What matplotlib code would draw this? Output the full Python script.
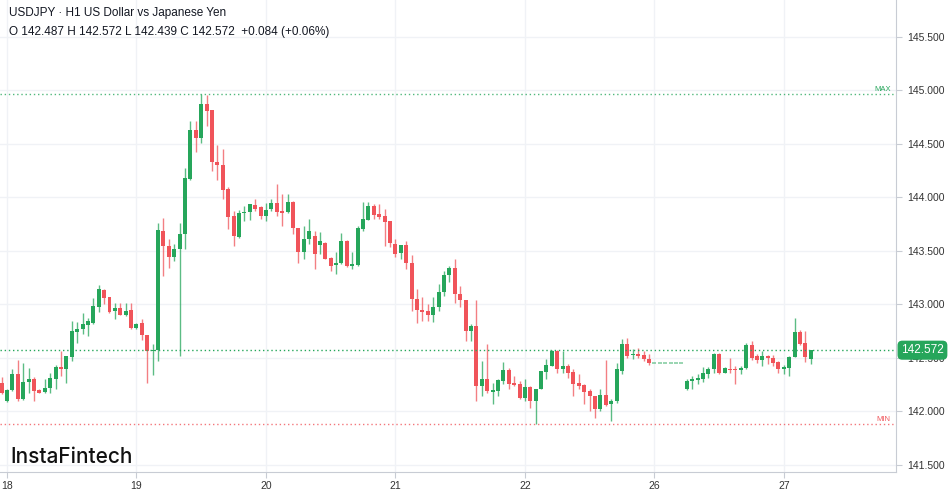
import matplotlib
matplotlib.use("Agg")
import matplotlib.pyplot as plt
import matplotlib.transforms as mtransforms
import numpy as np

# USDJPY H1 candles
opens = [142.268, 142.100, 142.199, 142.352, 142.119, 142.274, 142.300, 142.200, 142.180, 142.215,
         142.300, 142.414, 142.400, 142.510, 142.740, 142.766, 142.810, 142.828, 142.980, 143.133,
         143.065, 142.940, 142.962, 142.900, 142.946, 142.778, 142.828, 142.713, 142.560, 142.573,
         143.684, 143.544, 143.441, 143.513, 143.660, 144.173, 144.627, 144.550, 144.876, 144.814,
         144.334, 144.306, 144.073, 143.824, 143.631, 143.849, 143.861, 143.924, 143.908, 143.824,
         143.887, 143.943, 143.871, 143.862, 143.958, 143.715, 143.488, 143.606, 143.638, 143.550,
         143.575, 143.435, 143.364, 143.382, 143.591, 143.358, 143.364, 143.700, 143.787, 143.918,
         143.840, 143.824, 143.778, 143.560, 143.476, 143.550, 143.382, 143.046, 142.946, 142.937,
         142.897, 142.978, 143.115, 143.270, 143.336, 143.099, 143.040, 142.750, 142.797, 142.237,
         142.305, 142.181, 142.190, 142.284, 142.383, 142.262, 142.252, 142.128, 142.231, 142.097,
         142.212, 142.368, 142.424, 142.564, 142.399, 142.424, 142.370, 142.262, 142.243, 142.190,
         142.144, 142.019, 142.150, 142.066, 142.097, 142.377, 142.626, 142.529, 142.538, 142.523,
         142.491, 142.450, 142.450, 142.450, 142.450, 142.450, 142.450, 142.211, 142.283, 142.289,
         142.299, 142.345, 142.392, 142.532, 142.361, 142.398, 142.392, 142.386, 142.401, 142.625,
         142.516, 142.485, 142.516, 142.501, 142.460, 142.392, 142.407, 142.510, 142.740, 142.641,
         142.487]
highs = [142.324, 142.210, 142.400, 142.480, 142.455, 142.405, 142.324, 142.210, 142.306, 142.355,
         142.430, 142.560, 142.520, 142.840, 142.837, 142.920, 142.875, 143.060, 143.177, 143.140,
         143.070, 143.015, 143.010, 143.010, 143.010, 142.830, 142.865, 142.713, 142.626, 143.762,
         143.810, 143.612, 143.560, 143.756, 144.275, 144.710, 144.710, 144.965, 144.960, 144.820,
         144.484, 144.453, 144.098, 143.870, 143.880, 143.917, 143.942, 143.986, 143.920, 143.948,
         143.980, 144.120, 144.027, 144.027, 143.964, 143.715, 143.731, 143.793, 143.684, 143.675,
         143.580, 143.440, 143.488, 143.669, 143.597, 143.488, 143.731, 143.955, 143.958, 143.933,
         143.940, 143.887, 143.780, 143.606, 143.550, 143.591, 143.457, 143.146, 143.071, 143.000,
         143.071, 143.186, 143.311, 143.363, 143.420, 143.171, 143.045, 142.812, 143.040, 142.470,
         142.626, 142.268, 142.300, 142.460, 142.408, 142.330, 142.284, 142.300, 142.237, 142.212,
         142.380, 142.492, 142.573, 142.573, 142.564, 142.440, 142.393, 142.346, 142.252, 142.206,
         142.144, 142.206, 142.480, 142.112, 142.455, 142.673, 142.688, 142.585, 142.594, 142.563,
         142.538, 142.450, 142.450, 142.450, 142.450, 142.450, 142.450, 142.299, 142.330, 142.345,
         142.417, 142.417, 142.547, 142.547, 142.417, 142.501, 142.423, 142.423, 142.635, 142.656,
         142.532, 142.563, 142.523, 142.523, 142.470, 142.429, 142.516, 142.874, 142.759, 142.750,
         142.572]
lows = [142.159, 142.090, 142.190, 142.097, 142.110, 142.170, 142.100, 142.170, 142.170, 142.175,
        142.210, 142.330, 142.270, 142.470, 142.640, 142.720, 142.700, 142.820, 142.930, 142.999,
        142.920, 142.860, 142.900, 142.890, 142.770, 142.770, 142.670, 142.270, 142.336, 142.470,
        143.264, 143.342, 143.404, 142.517, 143.513, 144.166, 144.420, 144.509, 144.670, 144.244,
        144.166, 143.980, 143.706, 143.544, 143.622, 143.777, 143.787, 143.870, 143.793, 143.777,
        143.871, 143.824, 143.731, 143.855, 143.653, 143.389, 143.426, 143.560, 143.333, 143.466,
        143.420, 143.311, 143.280, 143.380, 143.350, 143.326, 143.360, 143.684, 143.787, 143.800,
        143.793, 143.544, 143.538, 143.445, 143.420, 143.332, 142.937, 142.828, 142.844, 142.844,
        142.834, 142.937, 143.077, 143.208, 143.015, 142.978, 142.657, 142.657, 142.097, 142.144,
        142.175, 142.066, 142.144, 142.252, 142.206, 142.237, 142.112, 142.097, 142.035, 141.885,
        142.210, 142.300, 142.424, 142.361, 142.361, 142.315, 142.144, 142.206, 142.066, 142.004,
        141.941, 142.004, 142.050, 141.910, 142.080, 142.346, 142.500, 142.491, 142.501, 142.470,
        142.438, 142.450, 142.450, 142.450, 142.450, 142.450, 142.450, 142.199, 142.211, 142.252,
        142.274, 142.314, 142.361, 142.345, 142.355, 142.361, 142.252, 142.345, 142.392, 142.479,
        142.448, 142.423, 142.439, 142.423, 142.361, 142.351, 142.330, 142.510, 142.616, 142.460,
        142.439]
closes = [142.175, 142.199, 142.352, 142.112, 142.274, 142.300, 142.190, 142.175, 142.220, 142.309,
          142.414, 142.392, 142.517, 142.747, 142.772, 142.813, 142.844, 142.984, 143.139, 143.060,
          142.930, 142.962, 142.900, 142.940, 142.778, 142.820, 142.710, 142.560, 142.570, 143.690,
          143.544, 143.441, 143.513, 143.660, 144.182, 144.627, 144.555, 144.876, 144.810, 144.328,
          144.303, 144.064, 143.818, 143.637, 143.855, 143.861, 143.933, 143.893, 143.824, 143.886,
          143.943, 143.862, 143.855, 143.958, 143.715, 143.488, 143.613, 143.681, 143.466, 143.591,
          143.426, 143.358, 143.389, 143.591, 143.358, 143.373, 143.709, 143.793, 143.918, 143.834,
          143.818, 143.768, 143.569, 143.466, 143.550, 143.382, 143.046, 142.946, 142.928, 142.897,
          142.978, 143.115, 143.270, 143.336, 143.093, 143.040, 142.750, 142.797, 142.237, 142.305,
          142.190, 142.197, 142.290, 142.383, 142.252, 142.246, 142.128, 142.231, 142.097, 142.212,
          142.377, 142.430, 142.564, 142.399, 142.424, 142.361, 142.252, 142.237, 142.181, 142.144,
          142.019, 142.150, 142.056, 142.097, 142.393, 142.626, 142.517, 142.538, 142.516, 142.491,
          142.448, 142.450, 142.450, 142.450, 142.450, 142.450, 142.450, 142.283, 142.299, 142.314,
          142.355, 142.398, 142.532, 142.361, 142.401, 142.386, 142.389, 142.407, 142.625, 142.501,
          142.485, 142.516, 142.495, 142.448, 142.392, 142.417, 142.510, 142.740, 142.631, 142.507,
          142.572]

day_labels = ["18", "19", "20", "21", "22", "26", "27"]
day_idx = [1, 25, 49, 73, 97, 121, 145]
price_ticks = [141.5, 142.0, 142.5, 143.0, 143.5, 144.0, 144.5, 145.0, 145.5]
last_price = 142.572

GREEN = "#26a65b"
RED = "#f0545a"
GRID = "#f0f2f6"
TXT = "#131722"

W, H = 949, 494
fig = plt.figure(figsize=(W / 100, H / 100), dpi=100)
ax = fig.add_axes([0, (H - 471.7) / H, 895.7 / W, 471.7 / H])

o = np.array(opens); h = np.array(highs); l = np.array(lows); c = np.array(closes)
x = np.arange(len(o))
up = c >= o
col = np.where(up, GREEN, RED)
flat = (h - l) < 1e-6

# wicks
for xi, hi, lo, cc, fl in zip(x, h, l, col, flat):
    if not fl:
        ax.vlines(xi, lo, hi, color=cc, lw=1.0, alpha=0.75, zorder=2)
# bodies
bottoms = np.minimum(o, c)
heights = np.maximum(np.abs(c - o), 0.006)
ax.bar(x[~flat], heights[~flat], bottom=bottoms[~flat], width=0.74,
       color=col[~flat], linewidth=0, zorder=3)
ax.hlines(c[flat], x[flat] - 0.37, x[flat] + 0.37, color=GREEN, lw=1.2, alpha=0.55, zorder=3)

# max / min / last lines
pmax, pmin = h.max(), l.min()
ax.axhline(pmax, color=GREEN, lw=1, ls=(0, (1, 2)), alpha=0.8, zorder=1)
ax.axhline(pmin, color=RED, lw=1, ls=(0, (1, 2)), alpha=0.8, zorder=1)
ax.axhline(last_price, color=GREEN, lw=1, ls=(0, (1, 2)), zorder=4)
ax.text(163.4, pmax + 0.01, "MAX", color=GREEN, fontsize=5.5, ha="center", va="bottom",
        family="Liberation Sans")
ax.text(163.4, pmin + 0.01, "MIN", color=RED, fontsize=5.5, ha="center", va="bottom",
        family="Liberation Sans")

ax.set_xlim(-1.6 / 5.395, (895.7 - 1.6) / 5.395)
ax.set_ylim(141.437, 145.843)

ax.set_xticks(day_idx)
ax.set_xticklabels(day_labels)
ax.set_yticks(price_ticks)
ax.set_yticklabels([f"{p:.3f}" for p in price_ticks])
ax.yaxis.tick_right()
ax.tick_params(axis="both", colors="#c8ccd4", labelcolor="#333333", labelsize=7.5,
               length=4, width=0.8)
ax.tick_params(axis="y", pad=4)
ax.tick_params(axis="x", pad=3)
for lab in ax.get_xticklabels() + ax.get_yticklabels():
    lab.set_family("Liberation Sans")
ax.grid(True, color=GRID, lw=1, zorder=0)
ax.set_axisbelow(True)
for s in ["left", "top"]:
    ax.spines[s].set_visible(False)
for s in ["right", "bottom"]:
    ax.spines[s].set_color("#c8ccd4")
    ax.spines[s].set_linewidth(0.8)

# last price tag
trans = mtransforms.blended_transform_factory(ax.transAxes, ax.transData)
ax.text(1.006, last_price, f"{last_price:.3f}", transform=trans, color="white",
        fontsize=8.5, ha="left", va="center", family="Liberation Sans", zorder=10,
        bbox=dict(boxstyle="round,pad=0.3,rounding_size=0.4", fc=GREEN, ec="none"),
        clip_on=False)

# header
fig.text(9 / W, 1 - 13 / H, "USDJPY · H1 US Dollar vs Japanese Yen", color=TXT,
         fontsize=8.5, family="Liberation Sans", va="center", ha="left")
fig.text(9 / W, 1 - 32 / H, "O 142.487 H 142.572 L 142.439 C 142.572  +0.084 (+0.06%)",
         color=TXT, fontsize=8.5, family="Liberation Sans", va="center", ha="left")
fig.text(10 / W, 1 - 457 / H, "InstaFintech", color="#111111", fontsize=15,
         family="Inter", weight="medium", va="center", ha="left")

fig.savefig("out.png", dpi=100)
